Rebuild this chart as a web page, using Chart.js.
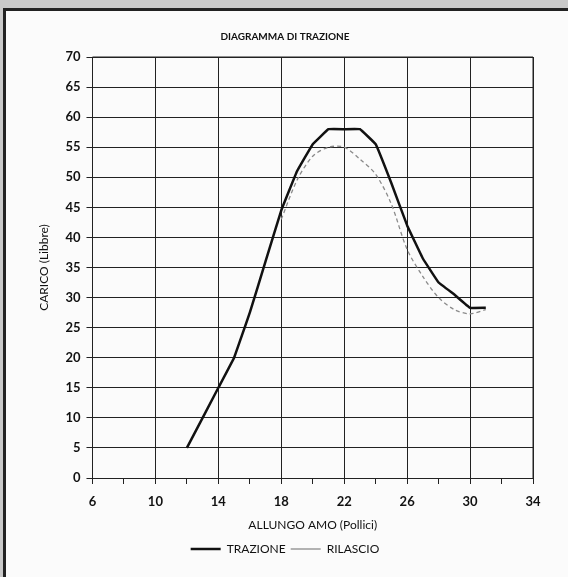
<!DOCTYPE html>
<html>
<head>
<meta charset="utf-8">
<script src="https://cdn.jsdelivr.net/npm/chart.js@4.4.1/dist/chart.umd.min.js"></script>
<style>
  html, body { margin: 0; padding: 0; width: 568px; height: 577px; overflow: hidden; background: #c9c9c9; }
  #frame { position: absolute; left: 3px; top: 8px; width: 565px; height: 569px; background: #fbfbfb;
           border-left: 3px solid #222; border-top: 3px solid #222; box-sizing: border-box; }
  #wrap { position: absolute; left: 0; top: 0; width: 568px; height: 577px; }
</style>
</head>
<body>
<div id="frame"></div>
<div id="wrap"><canvas id="c" width="568" height="577"></canvas></div>
<script>
// Data
const trazioneX = [12, 14, 15, 16, 17, 18, 19, 20, 21, 22, 23, 24, 25, 26, 27, 28, 29, 30, 31];
const trazioneY = [5, 15, 20, 27.5, 36, 44.5, 51, 55.5, 58, 58, 58, 55.5, 49, 42, 36.5, 32.5, 30.5, 28.3, 28.3];
const rilascioX = [18, 19, 20, 21, 22, 23, 24, 25, 26, 27, 28, 29, 30, 31];
const rilascioY = [43, 49.5, 53.5, 55, 55, 53, 50.5, 45.5, 38, 33.5, 30, 28, 27.3, 28];
const xTicks = [6, 10, 14, 18, 22, 26, 30, 34];
const yTicks = [0, 5, 10, 15, 20, 25, 30, 35, 40, 45, 50, 55, 60, 65, 70];

const toPts = (xs, ys) => xs.map((x, i) => ({ x: x, y: ys[i] }));
const FONT = 'Lato, "DejaVu Sans", sans-serif';

new Chart(document.getElementById('c'), {
  type: 'line',
  data: {
    datasets: [
      { label: 'TRAZIONE', data: toPts(trazioneX, trazioneY), borderColor: '#111', borderWidth: 2.5,
        pointRadius: 0, tension: 0.05, fill: false },
      { label: 'RILASCIO', data: toPts(rilascioX, rilascioY), borderColor: '#8a8a8a', borderWidth: 1.3,
        borderDash: [4, 3], pointRadius: 0, tension: 0.3, fill: false }
    ]
  },
  options: {
    responsive: false,
    animation: false,
    layout: { padding: { left: 37, right: 35, top: 21, bottom: 12 } },
    plugins: {
      title: { display: true, text: 'DIAGRAMMA DI TRAZIONE', color: '#111',
               font: { family: FONT, size: 10, weight: 'bold' }, padding: { top: 10, bottom: 14 } },
      legend: { display: true, position: 'bottom',
                labels: { color: '#111', usePointStyle: true, pointStyle: 'line', pointStyleWidth: 30,
                          boxHeight: 2, padding: 5, font: { family: FONT, size: 12 } } },
      tooltip: { enabled: false }
    },
    scales: {
      x: {
        type: 'linear', min: 6, max: 34,
        afterBuildTicks: (axis) => {
          const t = [];
          for (let i = 0; i < xTicks.length; i++) {
            t.push({ value: xTicks[i] });
            if (i < xTicks.length - 1) t.push({ value: (xTicks[i] + xTicks[i + 1]) / 2 });
          }
          axis.ticks = t;
        },
        ticks: { color: '#111', font: { family: FONT, size: 13, weight: 'bold' }, maxRotation: 0, autoSkip: false,
                 padding: 10, callback: (v) => xTicks.includes(v) ? String(v) : '' },
        grid: { color: (c) => xTicks.includes(c.tick.value) ? '#222' : 'rgba(0,0,0,0)',
                tickColor: '#222', tickLength: 6, lineWidth: 1 },
        border: { display: true, color: '#222', width: 1 },
        title: { display: true, text: 'ALLUNGO AMO (Pollici)', color: '#111',
                 font: { family: FONT, size: 12 }, padding: { top: -2, bottom: 6 } }
      },
      y: {
        min: 0, max: 70,
        afterBuildTicks: (axis) => { axis.ticks = yTicks.map(v => ({ value: v })); },
        ticks: { color: '#111', font: { family: FONT, size: 13, weight: 'bold' }, padding: 6 },
        grid: { color: '#222', tickColor: '#222', tickLength: 6, lineWidth: 1 },
        border: { display: true, color: '#222', width: 1 },
        title: { display: true, text: 'CARICO (Libbre)', color: '#111',
                 font: { family: FONT, size: 12 }, padding: { top: 0, bottom: 8 } }
      }
    }
  },
  plugins: [{
    id: 'topRightBorder',
    afterDraw(chart) {
      const { ctx, chartArea: a } = chart;
      ctx.save();
      ctx.strokeStyle = '#222';
      ctx.lineWidth = 1;
      ctx.beginPath();
      ctx.moveTo(a.left, a.top); ctx.lineTo(a.right, a.top); ctx.lineTo(a.right, a.bottom);
      ctx.stroke();
      ctx.restore();
    }
  }]
});
</script>
</body>
</html>
